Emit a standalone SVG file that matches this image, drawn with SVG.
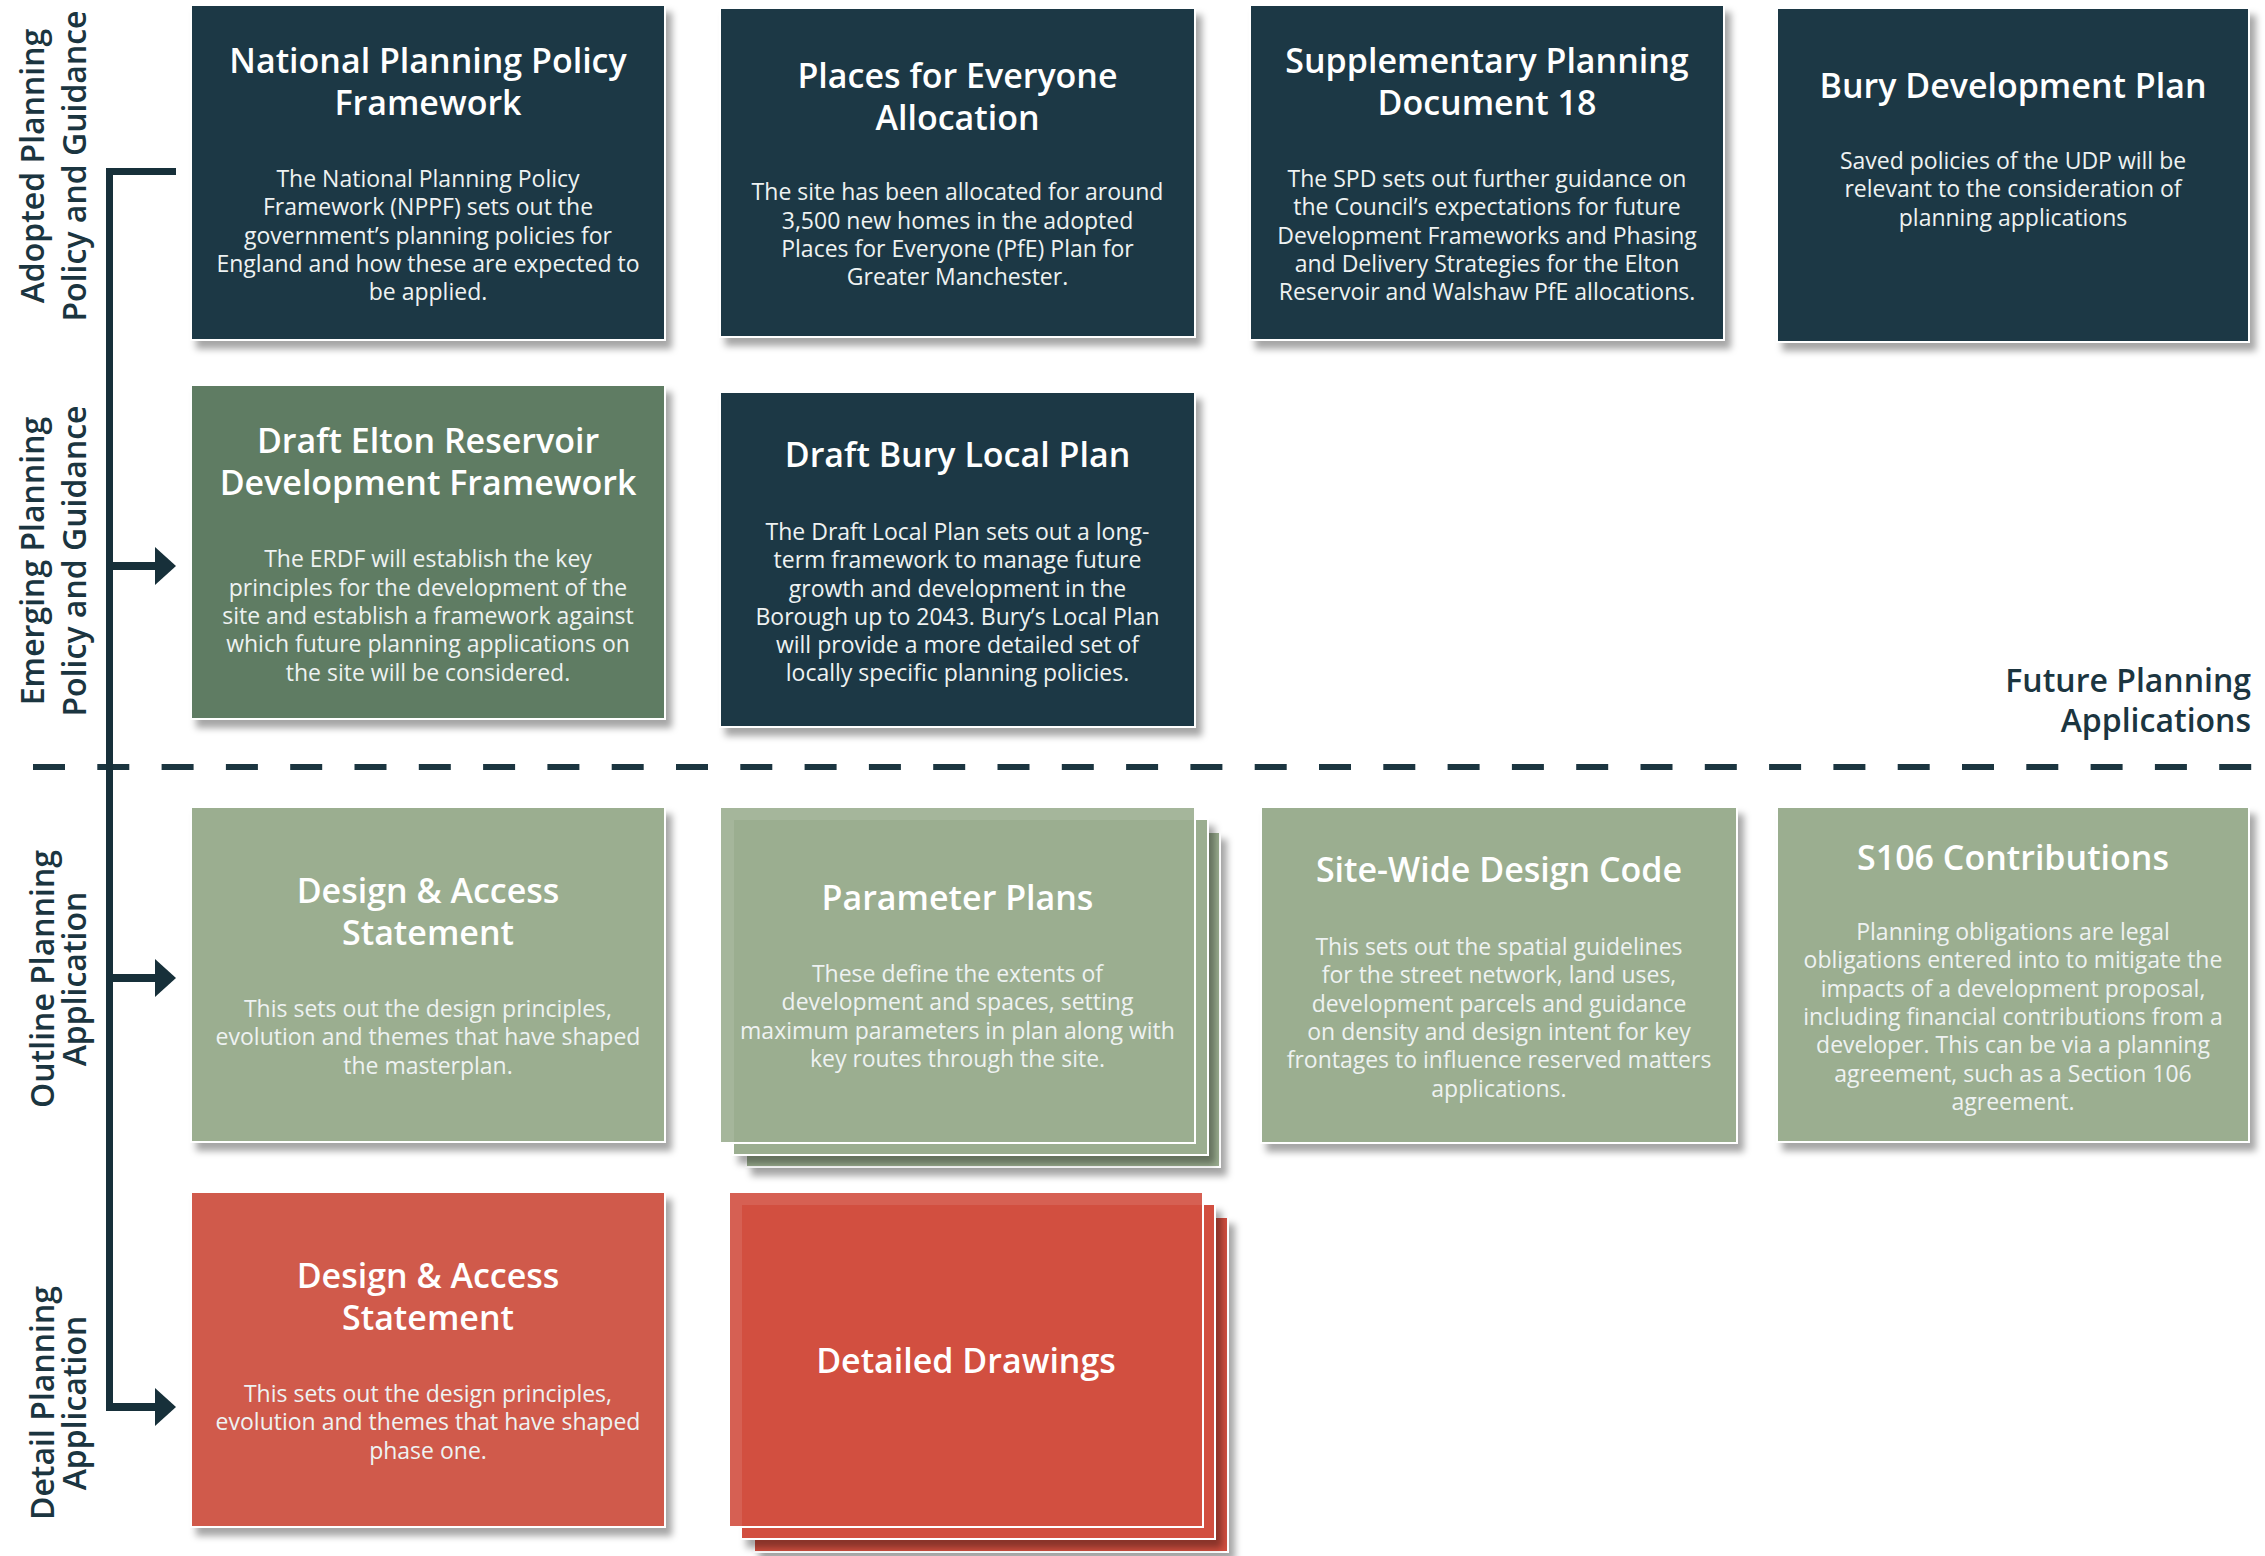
<svg xmlns="http://www.w3.org/2000/svg" width="2265" height="1556" viewBox="0 0 2265 1556">
<defs>
<filter id="sh" x="-5%" y="-5%" width="115%" height="120%">
<feDropShadow dx="6" dy="8" stdDeviation="3.5" flood-color="#000" flood-opacity="0.35"/>
</filter>
<style>
.dark{fill:#1f3944}
.elton{fill:#5f7c63}
.sage{fill:#9bae90}
.red{fill:#d05a4b}
.dd{fill:#d24f40}
.box{stroke:#ffffff;stroke-width:2}
.t{font-family:'Open Sans','Liberation Sans',sans-serif;font-weight:600;font-size:34px;fill:#ffffff;text-anchor:middle}
.b{font-family:'Open Sans','Liberation Sans',sans-serif;font-size:23px;fill:#eef2f2;text-anchor:middle}
.lbl{font-family:'Open Sans','Liberation Sans',sans-serif;font-weight:600;font-size:32px;fill:#1b3540;text-anchor:middle}
.fpa{font-family:'Open Sans','Liberation Sans',sans-serif;font-weight:600;font-size:32px;fill:#1b3540;text-anchor:end}
.ln{fill:#17303a}
</style>
</defs>
<rect width="2265" height="1556" fill="#ffffff"/>

<g id="labels">
<text class="lbl" transform="translate(44,166) rotate(-90)">Adopted Planning</text>
<text class="lbl" transform="translate(86,166) rotate(-90)">Policy and Guidance</text>
<text class="lbl" transform="translate(44,561) rotate(-90)">Emerging Planning</text>
<text class="lbl" transform="translate(86,561) rotate(-90)">Policy and Guidance</text>
<text class="lbl" transform="translate(54,979) rotate(-90)">Outline Planning</text>
<text class="lbl" transform="translate(86,979) rotate(-90)">Application</text>
<text class="lbl" transform="translate(54,1403) rotate(-90)">Detail Planning</text>
<text class="lbl" transform="translate(86,1403) rotate(-90)">Application</text>
<text class="fpa" x="2251" y="692">Future Planning</text>
<text class="fpa" x="2251" y="732">Applications</text>
</g>

<g id="connectors">
<line x1="33" y1="767" x2="2252" y2="767" stroke="#1b3540" stroke-width="6" stroke-dasharray="32 32.3"/>
<rect class="ln" x="106" y="168" width="7" height="1243"/>
<rect class="ln" x="106" y="168" width="70" height="7"/>
<rect class="ln" x="106" y="562" width="52" height="8"/>
<polygon class="ln" points="155,547 176,566 155,585"/>
<rect class="ln" x="106" y="974" width="52" height="8"/>
<polygon class="ln" points="155,959 176,978 155,997"/>
<rect class="ln" x="106" y="1403" width="52" height="8"/>
<polygon class="ln" points="155,1388 176,1407 155,1426"/>
</g>

<g id="nppf">
<rect class="dark box" filter="url(#sh)" x="191" y="5" width="474" height="335"/>
<text class="t" x="428" y="73">National Planning Policy</text>
<text class="t" x="428" y="115">Framework</text>
<text class="b" x="428" y="187">The National Planning Policy</text>
<text class="b" x="428" y="215">Framework (NPPF) sets out the</text>
<text class="b" x="428" y="244">government’s planning policies for</text>
<text class="b" x="428" y="272">England and how these are expected to</text>
<text class="b" x="428" y="300">be applied.</text>
</g>

<g id="pfe">
<rect class="dark box" filter="url(#sh)" x="720" y="8" width="475" height="329"/>
<text class="t" x="957.5" y="88">Places for Everyone</text>
<text class="t" x="957.5" y="130">Allocation</text>
<text class="b" x="957.5" y="200">The site has been allocated for around</text>
<text class="b" x="957.5" y="229">3,500 new homes in the adopted</text>
<text class="b" x="957.5" y="257">Places for Everyone (PfE) Plan for</text>
<text class="b" x="957.5" y="285">Greater Manchester.</text>
</g>

<g id="spd">
<rect class="dark box" filter="url(#sh)" x="1250" y="5" width="474" height="335"/>
<text class="t" x="1487" y="73">Supplementary Planning</text>
<text class="t" x="1487" y="115">Document 18</text>
<text class="b" x="1487" y="187">The SPD sets out further guidance on</text>
<text class="b" x="1487" y="215">the Council’s expectations for future</text>
<text class="b" x="1487" y="244">Development Frameworks and Phasing</text>
<text class="b" x="1487" y="272">and Delivery Strategies for the Elton</text>
<text class="b" x="1487" y="300">Reservoir and Walshaw PfE allocations.</text>
</g>

<g id="bury">
<rect class="dark box" filter="url(#sh)" x="1777" y="8" width="472" height="334"/>
<text class="t" x="2013" y="98">Bury Development Plan</text>
<text class="b" x="2013" y="169">Saved policies of the UDP will be</text>
<text class="b" x="2013" y="197">relevant to the consideration of</text>
<text class="b" x="2013" y="226">planning applications</text>
</g>

<g id="erdf">
<rect class="elton box" filter="url(#sh)" x="191" y="385" width="474" height="334"/>
<text class="t" x="428" y="453">Draft Elton Reservoir</text>
<text class="t" x="428" y="495">Development Framework</text>
<text class="b" x="428" y="567">The ERDF will establish the key</text>
<text class="b" x="428" y="596">principles for the development of the</text>
<text class="b" x="428" y="624">site and establish a framework against</text>
<text class="b" x="428" y="652">which future planning applications on</text>
<text class="b" x="428" y="681">the site will be considered.</text>
</g>

<g id="local-plan">
<rect class="dark box" filter="url(#sh)" x="720" y="392" width="475" height="335"/>
<text class="t" x="957.5" y="467">Draft Bury Local Plan</text>
<text class="b" x="957.5" y="540">The Draft Local Plan sets out a long-</text>
<text class="b" x="957.5" y="568">term framework to manage future</text>
<text class="b" x="957.5" y="597">growth and development in the</text>
<text class="b" x="957.5" y="625">Borough up to 2043. Bury’s Local Plan</text>
<text class="b" x="957.5" y="653">will provide a more detailed set of</text>
<text class="b" x="957.5" y="681">locally specific planning policies.</text>
</g>

<g id="das-outline">
<rect class="sage box" filter="url(#sh)" x="191" y="807" width="474" height="335"/>
<text class="t" x="428" y="903">Design &amp; Access</text>
<text class="t" x="428" y="945">Statement</text>
<text class="b" x="428" y="1017">This sets out the design principles,</text>
<text class="b" x="428" y="1045">evolution and themes that have shaped</text>
<text class="b" x="428" y="1074">the masterplan.</text>
</g>

<g id="parameter-plans">
<rect class="sage box" filter="url(#sh)" x="746" y="832" width="474" height="335"/>
<rect class="sage box" filter="url(#sh)" x="733" y="819" width="475" height="336"/>
<rect class="sage box" fill-opacity="0.9" x="720" y="807" width="475" height="336"/>
<text class="t" x="957.5" y="910">Parameter Plans</text>
<text class="b" x="957.5" y="982">These define the extents of</text>
<text class="b" x="957.5" y="1010">development and spaces, setting</text>
<text class="b" x="957.5" y="1039">maximum parameters in plan along with</text>
<text class="b" x="957.5" y="1067">key routes through the site.</text>
</g>

<g id="design-code">
<rect class="sage box" filter="url(#sh)" x="1261" y="807" width="476" height="336"/>
<text class="t" x="1499" y="882">Site-Wide Design Code</text>
<text class="b" x="1499" y="955">This sets out the spatial guidelines</text>
<text class="b" x="1499" y="983">for the street network, land uses,</text>
<text class="b" x="1499" y="1012">development parcels and guidance</text>
<text class="b" x="1499" y="1040">on density and design intent for key</text>
<text class="b" x="1499" y="1068">frontages to influence reserved matters</text>
<text class="b" x="1499" y="1097">applications.</text>
</g>

<g id="s106">
<rect class="sage box" filter="url(#sh)" x="1777" y="807" width="472" height="335"/>
<text class="t" x="2013" y="870">S106 Contributions</text>
<text class="b" x="2013" y="940">Planning obligations are legal</text>
<text class="b" x="2013" y="968">obligations entered into to mitigate the</text>
<text class="b" x="2013" y="997">impacts of a development proposal,</text>
<text class="b" x="2013" y="1025">including financial contributions from a</text>
<text class="b" x="2013" y="1053">developer. This can be via a planning</text>
<text class="b" x="2013" y="1082">agreement, such as a Section 106</text>
<text class="b" x="2013" y="1110">agreement.</text>
</g>

<g id="das-detail">
<rect class="red box" filter="url(#sh)" x="191" y="1192" width="474" height="335"/>
<text class="t" x="428" y="1288">Design &amp; Access</text>
<text class="t" x="428" y="1330">Statement</text>
<text class="b" x="428" y="1402">This sets out the design principles,</text>
<text class="b" x="428" y="1430">evolution and themes that have shaped</text>
<text class="b" x="428" y="1459">phase one.</text>
</g>

<g id="detailed-drawings">
<rect class="dd box" filter="url(#sh)" x="754" y="1217" width="474" height="335"/>
<rect class="dd box" filter="url(#sh)" x="741" y="1204" width="474" height="335"/>
<rect class="dd box" fill-opacity="0.9" x="729" y="1192" width="474" height="335"/>
<text class="t" x="966" y="1373">Detailed Drawings</text>
</g>
</svg>
